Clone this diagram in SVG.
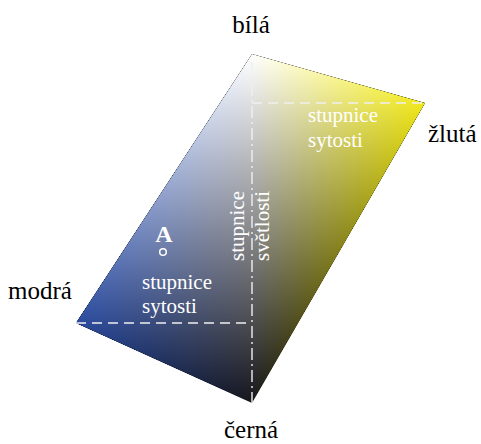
<svg xmlns="http://www.w3.org/2000/svg" width="481" height="444" viewBox="0 0 481 444">
<defs>
<linearGradient id="lA" gradientUnits="userSpaceOnUse" x1="120.5" y1="343.2" x2="252" y2="54">
<stop offset="0" stop-color="#e9e9e3" stop-opacity="0"/>
<stop offset="1" stop-color="#e9e9e3" stop-opacity="1"/>
</linearGradient>
<linearGradient id="lD" gradientUnits="userSpaceOnUse" x1="252" y1="323" x2="76" y2="323">
<stop offset="0" stop-color="#153583" stop-opacity="0"/>
<stop offset="1" stop-color="#153583" stop-opacity="1"/>
</linearGradient>
<linearGradient id="rA" gradientUnits="userSpaceOnUse" x1="403" y1="141.1" x2="252" y2="54">
<stop offset="0" stop-color="#e9e9e3" stop-opacity="0"/>
<stop offset="1" stop-color="#e9e9e3" stop-opacity="1"/>
</linearGradient>
<linearGradient id="rB" gradientUnits="userSpaceOnUse" x1="252" y1="103" x2="425" y2="103">
<stop offset="0" stop-color="#dad200" stop-opacity="0"/>
<stop offset="1" stop-color="#dad200" stop-opacity="1"/>
</linearGradient>
</defs>
<style>
.k{fill:#16161c}
.add{mix-blend-mode:plus-lighter}
.tri{isolation:isolate}
.dash{stroke:#f0f0f0;stroke-width:1.4;fill:none;stroke-dasharray:10 6}
.dashdot{stroke:#f0f0f0;stroke-width:1.4;fill:none;stroke-dasharray:12 4 2 4}
</style>
<g id="solid">
<g class="tri">
<polygon class="k" points="252,54 252,403 76,323"/>
<polygon class="add" points="252,54 252,403 76,323" fill="url(#lA)"/>
<polygon class="add" points="252,54 252,403 76,323" fill="url(#lD)"/>
</g>
<g class="tri">
<polygon class="k" points="252,54 425,103 252,403"/>
<polygon class="add" points="252,54 425,103 252,403" fill="url(#rA)"/>
<polygon class="add" points="252,54 425,103 252,403" fill="url(#rB)"/>
</g>
</g>
<g id="connectors">
<line class="dash" x1="252" y1="103" x2="425" y2="103"/>
<line class="dash" x1="76" y1="323" x2="252" y2="323"/>
<line class="dashdot" x1="252" y1="62" x2="252" y2="403"/>
</g>
<g font-family="Liberation Serif">
<g id="bila" font-size="25" fill="#000"><text x="251" y="33" text-anchor="middle">bílá</text></g>
<g id="zluta" font-size="25" fill="#000"><text x="428" y="142">žlutá</text></g>
<g id="modra" font-size="25" fill="#000"><text x="8" y="299">modrá</text></g>
<g id="cerna" font-size="25" fill="#000"><text x="251" y="438" text-anchor="middle">černá</text></g>
<g id="sytost-zluta" font-size="21" fill="#fff"><text x="308" y="122">stupnice</text><text x="308" y="147">sytosti</text></g>
<g id="sytost-modra" font-size="21" fill="#fff"><text x="142" y="289">stupnice</text><text x="142" y="313">sytosti</text></g>
<g id="svetlost" font-size="21" fill="#fff">
<text transform="translate(244,226) rotate(-90)" text-anchor="middle">stupnice</text>
<text transform="translate(269,226) rotate(-90)" text-anchor="middle">světlosti</text>
</g>
<g id="A">
<text x="164" y="242" text-anchor="middle" font-size="24" font-weight="bold" fill="#fff">A</text>
<circle cx="163" cy="252" r="3.3" fill="none" stroke="#fff" stroke-width="1.5"/>
</g>
</g>
</svg>
